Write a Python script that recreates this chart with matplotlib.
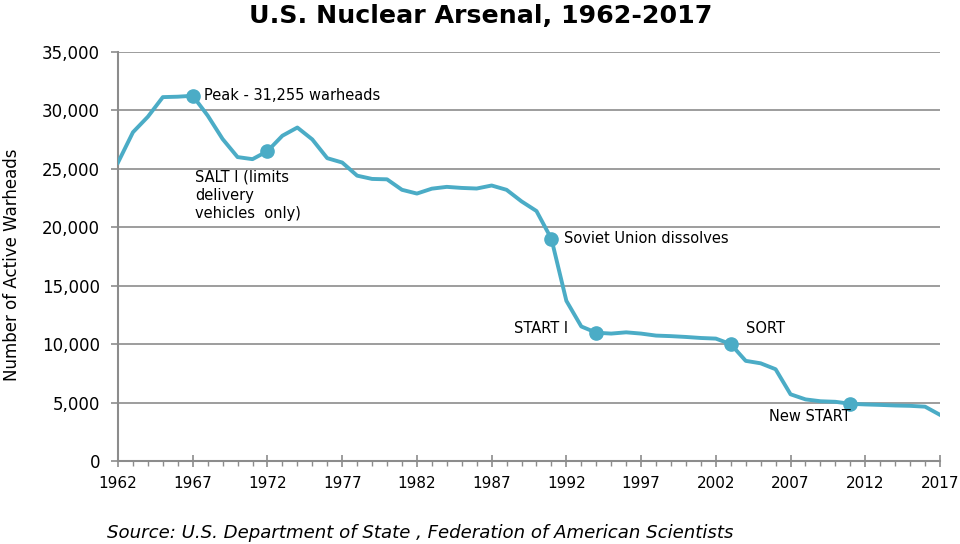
import matplotlib
matplotlib.use("Agg")
import matplotlib.pyplot as plt
from matplotlib.ticker import MultipleLocator, FuncFormatter

years = list(range(1962, 2018))
warheads = [25540, 28133, 29463, 31139, 31175, 31255, 29561, 27552, 26008, 25830,
            26516, 27835, 28537, 27519, 25914, 25542, 24418, 24138, 24104, 23208,
            22886, 23305, 23459, 23368, 23317, 23575, 23205, 22217, 21392, 19008,
            13708, 11511, 10979, 10904, 11011, 10903, 10732, 10685, 10615, 10527,
            10475, 10000, 8570, 8360, 7853, 5709, 5273, 5113, 5066, 4897,
            4840, 4800, 4750, 4720, 4650, 3950]

xtick_years = [1962, 1967, 1972, 1977, 1982, 1987, 1992, 1997, 2002, 2007, 2012, 2017]

event_years = [1967, 1972, 1991, 1994, 2003, 2011]
event_labels = ["Peak - 31,255 warheads", "SALT I (limits\ndelivery\nvehicles  only)",
                "Soviet Union dissolves", "START I", "SORT", "New START"]

title = "U.S. Nuclear Arsenal, 1962-2017"
ylabel = "Number of Active Warheads"
source = "Source: U.S. Department of State , Federation of American Scientists"

LINE = "#4BACC6"
GRID = "#8C8C8C"

plt.rcParams['font.family'] = ['DejaVu Sans']

fig = plt.figure(figsize=(9.6, 5.44), dpi=100)
ax = fig.add_axes([118/960, 1-461/544, (940-118)/960, (461-52)/544])

ax.plot(years, warheads, color=LINE, lw=2.8, solid_joinstyle='round', zorder=3)
ev_vals = [warheads[years.index(y)] for y in event_years]
ax.plot(event_years, ev_vals, 'o', color=LINE, ms=9.5, zorder=4)

ax.set_xlim(1962, 2017)
ax.set_ylim(0, 35000)
ax.yaxis.set_major_locator(MultipleLocator(5000))
ax.set_xticks(xtick_years)
ax.set_xticks(years, minor=True)
ax.set_xticklabels([str(y) for y in xtick_years], fontsize=11)
ax.yaxis.set_major_formatter(FuncFormatter(lambda v, p: f"{int(v):,}"))
ax.grid(axis='y', color=GRID, lw=1.2)
ax.set_axisbelow(True)

for s in ['top', 'right']:
    ax.spines[s].set_visible(False)
for s in ['left', 'bottom']:
    ax.spines[s].set_color(GRID)
    ax.spines[s].set_linewidth(1.5)

ax.tick_params(axis='y', which='major', direction='out', length=5, width=1.2,
               color=GRID, labelsize=12, pad=8, labelcolor='black')
ax.tick_params(axis='x', which='major', direction='inout', length=9, width=1.2,
               color=GRID, pad=6, labelcolor='black')
ax.tick_params(axis='x', which='minor', direction='out', length=3.5, width=1.0,
               color=GRID)

offsets = [(8, 0, 'left', 'center'), (-52, -13, 'left', 'top'),
           (9, 0, 'left', 'center'), (-20, 3, 'right', 'center'),
           (11, 11, 'left', 'center'), (0, -9, 'right', 'center')]
for yr, v, lab, (dx, dy, ha, va) in zip(event_years, ev_vals, event_labels, offsets):
    ax.annotate(lab, xy=(yr, v), xytext=(dx, dy), textcoords='offset points',
                ha=ha, va=va, fontsize=10.5, linespacing=1.3, zorder=5)

fig.text(481/960, 1-23/544, title, ha='center', va='baseline',
         fontsize=18.2, fontweight='bold')
fig.text(12/960, 1-265/544, ylabel, rotation=90, ha='center', va='center',
         fontsize=12)
fig.text(107/960, 1-533/544, source, ha='left', va='center', fontsize=13.1,
         style='italic')

fig.savefig("out.png", dpi=100, facecolor='white')
